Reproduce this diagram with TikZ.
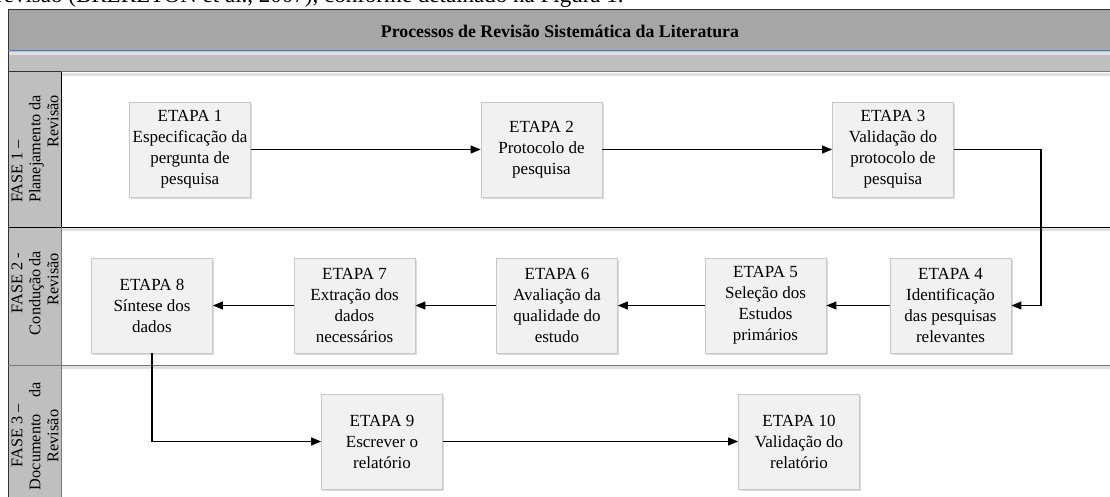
\documentclass[tikz,border=0pt]{standalone}
\usepackage{fontspec}
\setmainfont{Liberation Serif}
\usetikzlibrary{arrows.meta,shadows}
\definecolor{titlegray}{HTML}{A6A6A6}
\definecolor{subgray}{HTML}{BFBFBF}
\definecolor{boxfill}{HTML}{F1F1F1}
\definecolor{boxline}{HTML}{C8C8C8}
\definecolor{laneblue}{HTML}{5A7FA8}
\begin{document}
\begin{tikzpicture}[x=1pt,y=-1pt,
  stepbox/.style={draw=boxline, fill=boxfill, minimum width=121pt, minimum height=95pt,
    inner sep=0pt, align=center, font=\fontsize{17}{21}\selectfont, line width=0.8pt,
    drop shadow={shadow xshift=1.5pt, shadow yshift=-2pt, fill=black!30, opacity=0.45}},
  flow/.style={-{Triangle[length=10pt,width=8pt]}, line width=1.1pt, black},
  lanehead/.style={rotate=90, align=center, font=\fontsize{16.3}{18}\selectfont, inner sep=0pt},
  laneline/.style={line width=1pt},
  lineshadow/.style={line width=2.5pt, black!12}]
\useasboundingbox (0,0) rectangle (1110,497);
\fill[white] (0,0) rectangle (1110,497);
% partial sentence at the very top
\node[anchor=base west, inner sep=0pt, font=\fontsize{23}{26}\selectfont] (intro) at (-4,3)
  {revisão (BRERETON et al., 2007), conforme detalhado na Figura 1.};
% bands
\fill[titlegray] (8,10) rectangle (1120,51);
\fill[subgray] (8,51) rectangle (1120,72);
\fill[subgray] (8,72) rectangle (61,510);
% soft shadows below lines
\draw[lineshadow] (8,53.5) -- (1120,53.5);
\draw[lineshadow] (62,74.5) -- (1120,74.5);
\draw[lineshadow] (62,229.5) -- (1120,229.5);
\draw[lineshadow] (62,367.5) -- (1120,367.5);
% lines
\draw[laneline, black!80] (8,10) -- (1120,10);
\draw[laneline, black!80] (8,10) -- (8,510);
\draw[laneline, laneblue] (8,51) -- (1120,51);
\draw[laneline, laneblue] (8,72) -- (1120,72);
\draw[laneline, black] (8,227) -- (1120,227);
\draw[laneline, laneblue] (8,365) -- (1120,365);
\draw[laneline, black] (61,72) -- (61,227);
\draw[laneline, laneblue] (61,227) -- (61,510);
\draw[laneline, black!80] (8,72) -- (61,72);
% title
\node[font=\bfseries\fontsize{17.8}{20}\selectfont] (title) at (560,31)
  {Processos de Revisão Sistemática da Literatura};
% lane headers
\node[lanehead] (lane1) at (35,149)
  {\makebox[108pt][l]{FASE 1 –}\\\makebox[108pt][s]{Planejamento da}\\\makebox[108pt][r]{Revisão}};
\node[lanehead] (lane2) at (35,294)
  {\makebox[82pt][r]{FASE 2 -}\\\makebox[82pt][s]{Condução da}\\\makebox[82pt][r]{Revisão}};
\node[lanehead] (lane3) at (35,436)
  {\makebox[108pt][c]{FASE 3 –}\\\makebox[108pt][s]{Documento da}\\\makebox[108pt][c]{Revisão}};
% steps
\node[stepbox] (e1) at (190,149.5) {ETAPA 1\\Especificação da\\pergunta de\\pesquisa};
\node[stepbox] (e2) at (541.5,149.5) {ETAPA 2\\Protocolo de\\pesquisa};
\node[stepbox] (e3) at (893,149.5) {ETAPA 3\\Validação do\\protocolo de\\pesquisa};
\node[stepbox] (e4) at (950.5,305.5) {ETAPA 4\\Identificação\\das pesquisas\\relevantes};
\node[stepbox] (e5) at (765.5,305.5) {ETAPA 5\\Seleção dos\\Estudos\\primários};
\node[stepbox] (e6) at (557,305.5) {ETAPA 6\\Avaliação da\\qualidade do\\estudo};
\node[stepbox] (e7) at (354.5,305.5) {ETAPA 7\\Extração dos\\dados\\necessários};
\node[stepbox] (e8) at (152,305.5) {ETAPA 8\\Síntese dos\\dados};
\node[stepbox] (e9) at (382,441.5) {ETAPA 9\\Escrever o\\relatório};
\node[stepbox] (e10) at (799,441.5) {ETAPA 10\\Validação do\\relatório};
% connectors
\coordinate (r3) at (1041,0);
\draw[flow] (e1.east) -- (e2.west);
\draw[flow] (e2.east) -- (e3.west);
\draw[flow] (e3.east) -- (e3.east -| r3) -- (e4.east -| r3) -- (e4.east);
\draw[flow] (e4.west) -- (e5.east);
\draw[flow] (e5.west) -- (e6.east);
\draw[flow] (e6.west) -- (e7.east);
\draw[flow] (e7.west) -- (e8.east);
\draw[flow] (e8.south) |- (e9.west);
\draw[flow] (e9.east) -- (e10.west);
\end{tikzpicture}
\end{document}
